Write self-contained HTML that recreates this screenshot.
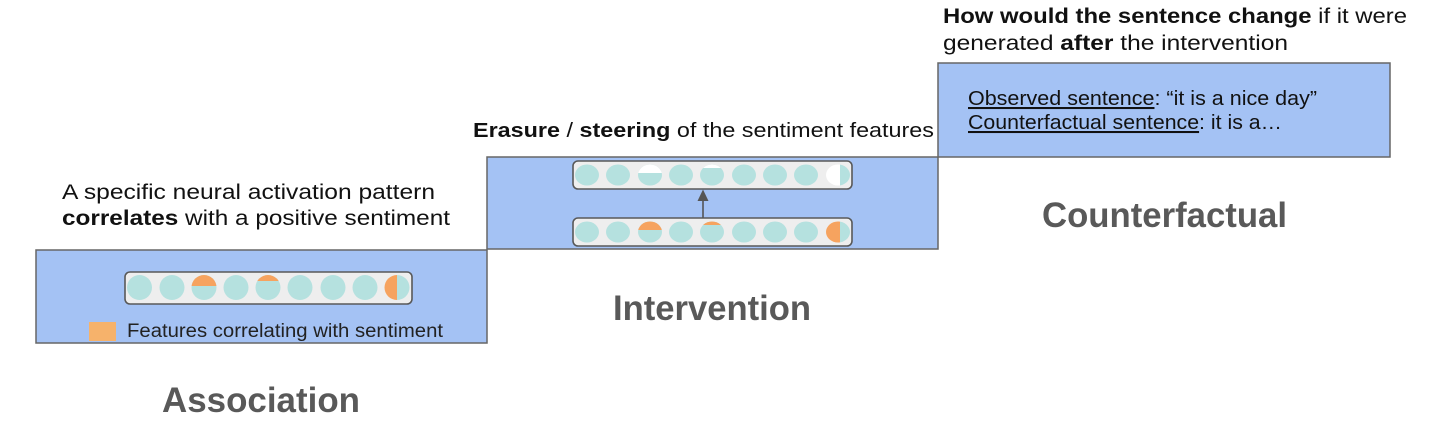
<!DOCTYPE html>
<html>
<head>
<meta charset="utf-8">
<style>
html,body{margin:0;padding:0;background:#fff;}
svg{display:block;}
text{font-family:"Liberation Sans",Arial,sans-serif;}
</style>
</head>
<body>
<svg width="1431" height="422" viewBox="0 0 1431 422" xmlns="http://www.w3.org/2000/svg">
<defs>
  <clipPath id="a3"><rect x="185" y="270" width="40" height="16"/></clipPath>
  <clipPath id="a5"><rect x="250" y="270" width="40" height="11"/></clipPath>
  <clipPath id="a9"><rect x="380" y="270" width="17" height="40"/></clipPath>
  <clipPath id="a9r"><rect x="397" y="270" width="13" height="40"/></clipPath>
  <clipPath id="t3"><rect x="635" y="160" width="30" height="13"/></clipPath>
  <clipPath id="t5"><rect x="697" y="160" width="30" height="8"/></clipPath>
  <clipPath id="t9"><rect x="820" y="160" width="20" height="30"/></clipPath>
  <clipPath id="t9r"><rect x="840" y="160" width="10" height="30"/></clipPath>
  <clipPath id="b3"><rect x="635" y="217" width="30" height="13"/></clipPath>
  <clipPath id="b5"><rect x="697" y="217" width="30" height="8"/></clipPath>
  <clipPath id="b9"><rect x="820" y="217" width="20" height="30"/></clipPath>
  <clipPath id="b9r"><rect x="840" y="217" width="10" height="30"/></clipPath>
</defs>

<!-- Boxes -->
<rect x="36" y="250" width="451" height="93" fill="#a4c2f4" stroke="#666" stroke-width="1.5"/>
<rect x="487" y="157" width="451" height="92" fill="#a4c2f4" stroke="#666" stroke-width="1.5"/>
<rect x="938" y="63" width="452" height="94" fill="#a4c2f4" stroke="#666" stroke-width="1.5"/>

<!-- Association bar -->
<rect x="125" y="272" width="287" height="32" rx="5" fill="#eeeeee" stroke="#595959" stroke-width="1.6"/>
<g fill="#b5e1df">
  <circle cx="139.5" cy="287.5" r="12.5"/>
  <circle cx="172" cy="287.5" r="12.5"/>
  <circle cx="204" cy="287.5" r="12.5"/>
  <circle cx="236" cy="287.5" r="12.5"/>
  <circle cx="268" cy="287.5" r="12.5"/>
  <circle cx="300" cy="287.5" r="12.5"/>
  <circle cx="333" cy="287.5" r="12.5"/>
  <circle cx="365" cy="287.5" r="12.5"/>
  <circle cx="397" cy="287.5" r="12.5" clip-path="url(#a9r)"/>
</g>
<g fill="#f6a35f">
  <circle cx="204" cy="287.5" r="12.5" clip-path="url(#a3)"/>
  <circle cx="268" cy="287.5" r="12.5" clip-path="url(#a5)"/>
  <circle cx="397" cy="287.5" r="12.5" clip-path="url(#a9)"/>
</g>

<!-- Legend -->
<rect x="89" y="322" width="27" height="19" fill="#f6b26b"/>
<text x="127" y="337" font-size="19" fill="#222" textLength="316" lengthAdjust="spacingAndGlyphs">Features correlating with sentiment</text>

<!-- Intervention top bar -->
<rect x="573" y="161" width="279" height="28" rx="5" fill="#eeeeee" stroke="#595959" stroke-width="1.6"/>
<g fill="#b5e1df">
  <ellipse cx="587" cy="175" rx="12" ry="10.5"/>
  <ellipse cx="618" cy="175" rx="12" ry="10.5"/>
  <ellipse cx="650" cy="175" rx="12" ry="10.5"/>
  <ellipse cx="681" cy="175" rx="12" ry="10.5"/>
  <ellipse cx="712" cy="175" rx="12" ry="10.5"/>
  <ellipse cx="744" cy="175" rx="12" ry="10.5"/>
  <ellipse cx="775" cy="175" rx="12" ry="10.5"/>
  <ellipse cx="806" cy="175" rx="12" ry="10.5"/>
  <ellipse cx="838" cy="175" rx="12" ry="10.5" clip-path="url(#t9r)"/>
</g>
<g fill="#ffffff">
  <ellipse cx="650" cy="175" rx="12" ry="10.5" clip-path="url(#t3)"/>
  <ellipse cx="712" cy="175" rx="12" ry="10.5" clip-path="url(#t5)"/>
  <ellipse cx="838" cy="175" rx="12" ry="10.5" clip-path="url(#t9)"/>
</g>

<!-- Intervention bottom bar -->
<rect x="573" y="218" width="279" height="28" rx="5" fill="#eeeeee" stroke="#595959" stroke-width="1.6"/>
<g fill="#b5e1df">
  <ellipse cx="587" cy="232" rx="12" ry="10.5"/>
  <ellipse cx="618" cy="232" rx="12" ry="10.5"/>
  <ellipse cx="650" cy="232" rx="12" ry="10.5"/>
  <ellipse cx="681" cy="232" rx="12" ry="10.5"/>
  <ellipse cx="712" cy="232" rx="12" ry="10.5"/>
  <ellipse cx="744" cy="232" rx="12" ry="10.5"/>
  <ellipse cx="775" cy="232" rx="12" ry="10.5"/>
  <ellipse cx="806" cy="232" rx="12" ry="10.5"/>
  <ellipse cx="838" cy="232" rx="12" ry="10.5" clip-path="url(#b9r)"/>
</g>
<g fill="#f6a35f">
  <ellipse cx="650" cy="232" rx="12" ry="10.5" clip-path="url(#b3)"/>
  <ellipse cx="712" cy="232" rx="12" ry="10.5" clip-path="url(#b5)"/>
  <ellipse cx="838" cy="232" rx="12" ry="10.5" clip-path="url(#b9)"/>
</g>

<!-- Arrow -->
<line x1="703" y1="218" x2="703" y2="199" stroke="#555" stroke-width="1.6"/>
<polygon points="703,189.5 697.5,201 708.5,201" fill="#555"/>

<!-- Texts -->
<text x="62" y="199" font-size="21" fill="#111" textLength="373" lengthAdjust="spacingAndGlyphs">A specific neural activation pattern</text>
<text x="62" y="225" font-size="21" fill="#111" textLength="388" lengthAdjust="spacingAndGlyphs"><tspan font-weight="bold">correlates</tspan> with a positive sentiment</text>

<text x="473" y="137" font-size="20" fill="#111" textLength="461" lengthAdjust="spacingAndGlyphs"><tspan font-weight="bold">Erasure</tspan> / <tspan font-weight="bold">steering</tspan> of the sentiment features</text>

<text x="943" y="23" font-size="21" fill="#111" textLength="464" lengthAdjust="spacingAndGlyphs"><tspan font-weight="bold">How would the sentence change</tspan> if it were</text>
<text x="943" y="50" font-size="21" fill="#111" textLength="345" lengthAdjust="spacingAndGlyphs">generated <tspan font-weight="bold">after</tspan> the intervention</text>

<text x="968" y="105" font-size="20.5" fill="#111" textLength="349" lengthAdjust="spacingAndGlyphs"><tspan text-decoration="underline">Observed sentence</tspan>: “it is a nice day”</text>
<text x="968" y="129" font-size="20.5" fill="#111" textLength="314" lengthAdjust="spacingAndGlyphs"><tspan text-decoration="underline">Counterfactual sentence</tspan>: it is a…</text>

<text x="162" y="412" font-size="35" font-weight="bold" fill="#595959" textLength="198" lengthAdjust="spacingAndGlyphs">Association</text>
<text x="613" y="320" font-size="35" font-weight="bold" fill="#595959" textLength="198" lengthAdjust="spacingAndGlyphs">Intervention</text>
<text x="1042" y="227" font-size="35" font-weight="bold" fill="#595959" textLength="245" lengthAdjust="spacingAndGlyphs">Counterfactual</text>
</svg>
</body>
</html>
